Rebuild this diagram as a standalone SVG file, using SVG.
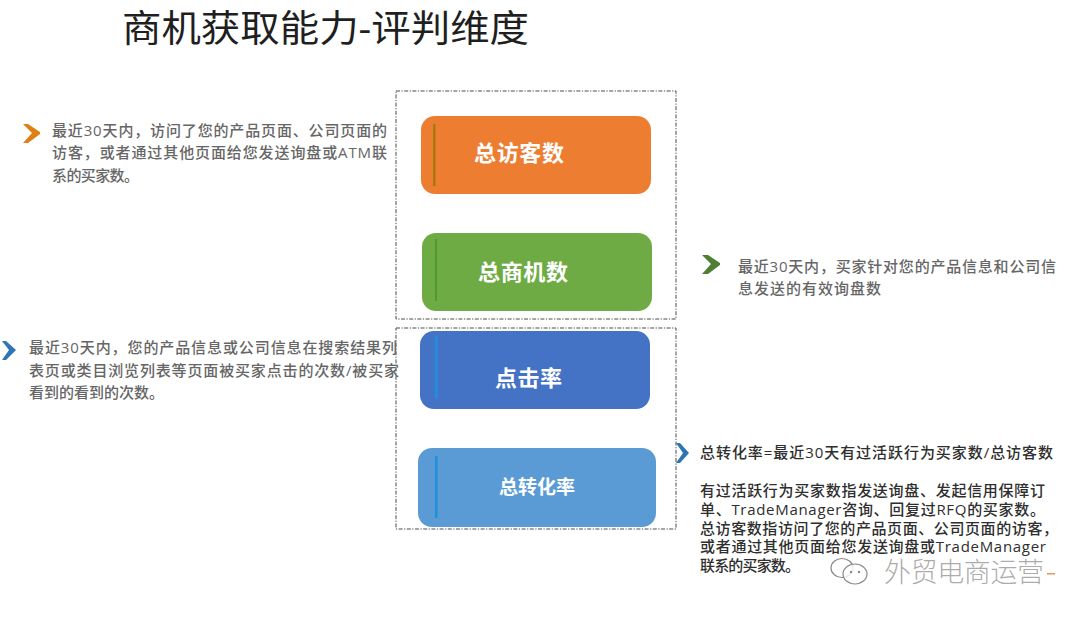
<svg xmlns="http://www.w3.org/2000/svg" width="1080" height="620" viewBox="0 0 1080 620">
<style>
text{font-family:"Open Sans","Noto Sans CJK SC",sans-serif}
.d{fill:#666;font-size:15px;font-weight:500}
.k{fill:#2e2e2e;font-size:15px;font-weight:500}
.n{fill:#fff;font-size:22px;font-weight:700}
.b{fill:none;stroke:#4a4a4a;stroke-width:1;stroke-dasharray:4 1.5 1.2 1.5}
</style>
<rect width="1080" height="620" fill="#fff"/>
<text x="122" y="42" font-size="37" fill="#1f1f1f" textLength="407" lengthAdjust="spacingAndGlyphs">商机获取能力-评判维度</text>
<g id="frames">
<rect class="b" x="396" y="91" width="280" height="228"/>
<rect class="b" x="396" y="328" width="280" height="201"/>
</g>
<g id="node-visitors">
<rect x="421" y="116" width="230" height="78" rx="14" fill="#ed7d31"/>
<rect x="433" y="124" width="2.5" height="62" fill="#a8780a"/>
<text class="n" x="474" y="161" textLength="90">总访客数</text>
</g>
<g id="node-leads">
<rect x="422" y="233" width="230" height="78" rx="14" fill="#6fab44"/>
<rect x="435" y="239" width="2" height="62" fill="#4f9a2a"/>
<text class="n" x="478" y="280" textLength="90">总商机数</text>
</g>
<g id="node-ctr">
<rect x="420" y="331" width="230" height="78" rx="14" fill="#4472c4"/>
<rect x="435" y="336" width="2.5" height="62" fill="#1e90e0"/>
<text class="n" x="495" y="386" textLength="67">点击率</text>
</g>
<g id="node-conversion">
<rect x="418" y="448" width="238" height="79" rx="14" fill="#5b9bd5"/>
<rect x="435" y="456" width="2.5" height="62" fill="#1e90e0"/>
<text class="n" x="499" y="494" style="font-size:19px" textLength="76">总转化率</text>
</g>
<g id="connectors">
<path d="M23 124 L28 124 L40 132 L40 134 L28 143 L23 143 L32 133 Z" fill="#e07f14"/>
<path d="M702 255 L708 255 L720 263 L720 265 L708 274 L702 274 L711 264 Z" fill="#4f7f35"/>
<path d="M2 341 L6 341 L16 350 L6 360 L2 360 L9 350 Z" fill="#2e75b6"/>
<path d="M676 443 L680 443 L689 453 L680 463 L676 463 L683 453 Z" fill="#2e75b6"/>
</g>
<g id="desc-visitors">
<text class="d" x="52" y="136" textLength="335">最近30天内，访问了您的产品页面、公司页面的</text>
<text class="d" x="52" y="158" textLength="335">访客，或者通过其他页面给您发送询盘或ATM联</text>
<text class="d" x="52" y="181" textLength="87">系的买家数。</text>
</g>
<g id="desc-leads">
<text class="d" x="738" y="272" textLength="318">最近30天内，买家针对您的产品信息和公司信</text>
<text class="d" x="738" y="294" textLength="143">息发送的有效询盘数</text>
</g>
<g id="desc-ctr">
<text class="d" x="29" y="353" textLength="368">最近30天内，您的产品信息或公司信息在搜索结果列</text>
<text class="d" x="29" y="376" textLength="370">表页或类目浏览列表等页面被买家点击的次数/被买家</text>
<text class="d" x="29" y="398" textLength="135">看到的看到的次数。</text>
</g>
<g id="desc-conversion">
<text class="k" x="700" y="458" textLength="353">总转化率=最近30天有过活跃行为买家数/总访客数</text>
<text class="k" x="700" y="496" textLength="345">有过活跃行为买家数指发送询盘、发起信用保障订</text>
<text class="k" x="700" y="515" textLength="345">单、TradeManager咨询、回复过RFQ的买家数。</text>
<text class="k" x="700" y="534" textLength="358">总访客数指访问了您的产品页面、公司页面的访客，</text>
<text class="k" x="700" y="552" textLength="346">或者通过其他页面给您发送询盘或TradeManager</text>
<text class="k" x="700" y="571" textLength="100">联系的买家数。</text>
</g>
<g id="watermark">
<ellipse cx="842" cy="568" rx="11" ry="9.5" fill="#fff" fill-opacity=".6" stroke="#8a8a8a" stroke-width="1.2"/>
<ellipse cx="855" cy="574" rx="12" ry="10" fill="#fff" fill-opacity=".8" stroke="#8a8a8a" stroke-width="1.2"/>
<circle cx="851" cy="572" r="1.2" fill="#8a8a8a"/>
<circle cx="859" cy="572" r="1.2" fill="#8a8a8a"/>
<text x="884" y="582" font-size="27" fill="#8f8f8f" fill-opacity=".75" font-weight="300" textLength="160">外贸电商运营</text>
<rect x="1047" y="573" width="8" height="1.5" fill="#e8945a"/>
</g>
</svg>
